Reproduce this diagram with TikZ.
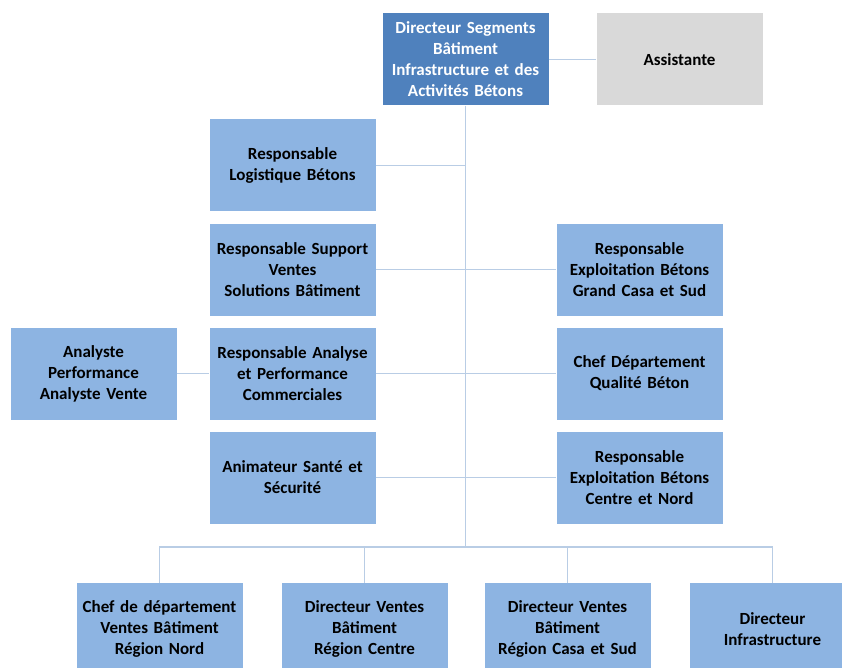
\documentclass[tikz,border=0pt]{standalone}
\usepackage{fontspec}
\setmainfont{Carlito}[WordSpace=0.7]
\usepackage{tikz}
\usetikzlibrary{calc}
\definecolor{chefblue}{HTML}{4F81BD}
\definecolor{posteblue}{HTML}{8DB4E2}
\definecolor{assgray}{HTML}{D9D9D9}
\definecolor{lienblue}{HTML}{B9CDE5}
\tikzset{
	poste/.style={fill=posteblue, minimum width=166, minimum height=92, inner sep=0,
		text width=164, align=center, font=\bfseries\fontsize{17}{21}\selectfont},
	chef/.style={poste, fill=chefblue, text=white},
	assist/.style={poste, fill=assgray},
	lien/.style={draw=lienblue, line width=1.6pt}
}

\begin{document}
\begin{tikzpicture}[x=1pt, y=-1pt]
			%%%%% START %%%%%
			\useasboundingbox (0, 0) rectangle (842, 668);
			
			\node[chef] (dir) at (465.5, 59.5) {Directeur Segments\\Bâtiment\\Infrastructure et des\\Activités Bétons};
			\node[assist] (ass) at (679.5, 59.5) {Assistante};
			
			\node[poste] (log) at (292.5, 165.5) {Responsable\\Logistique Bétons};
			\node[poste] (sup) at (292.5, 269.5) {Responsable Support\\Ventes\\Solutions Bâtiment};
			\node[poste] (ana) at (292.5, 373.5) {Responsable Analyse\\et Performance\\Commerciales};
			\node[poste] (anv) at (93.5, 373.5) {Analyste\\Performance\\Analyste Vente};
			\node[poste] (sec) at (292.5, 477.5) {Animateur Santé et\\Sécurité};
			
			\node[poste] (exg) at (639.5, 269.5) {Responsable\\Exploitation Bétons\\Grand Casa et Sud};
			\node[poste] (qua) at (639.5, 373.5) {Chef Département\\Qualité Béton};
			\node[poste] (exc) at (639.5, 477.5) {Responsable\\Exploitation Bétons\\Centre et Nord};
			
			\node[poste] (nord) at (159.5, 629) {Chef de département\\Ventes Bâtiment\\Région Nord};
			\node[poste] (cen) at (364.5, 629) {Directeur Ventes\\Bâtiment\\Région Centre};
			\node[poste] (sud) at (567.5, 629) {Directeur Ventes\\Bâtiment\\Région Casa et Sud};
			\node[poste] (inf) at (772.5, 629) {Directeur\\Infrastructure};
			
			\coordinate (bus) at (465.5, 547);
			
			% liaisons
			\draw[lien] (dir.east) -- (ass.west);
			\draw[lien] (dir.south) -- (bus);
			\draw[lien] (log.east) -- (log.east -| dir.south);
			\draw[lien] (sup.east) -- (exg.west);
			\draw[lien] (anv.east) -- (ana.west);
			\draw[lien] (ana.east) -- (qua.west);
			\draw[lien] (sec.east) -- (exc.west);
			\draw[lien] (nord.north) |- (bus) -| (inf.north);
			\draw[lien] (cen.north) -- (cen.north |- bus);
			\draw[lien] (sud.north) -- (sud.north |- bus);
			
			%%%%% END %%%%%
\end{tikzpicture}
\end{document}
